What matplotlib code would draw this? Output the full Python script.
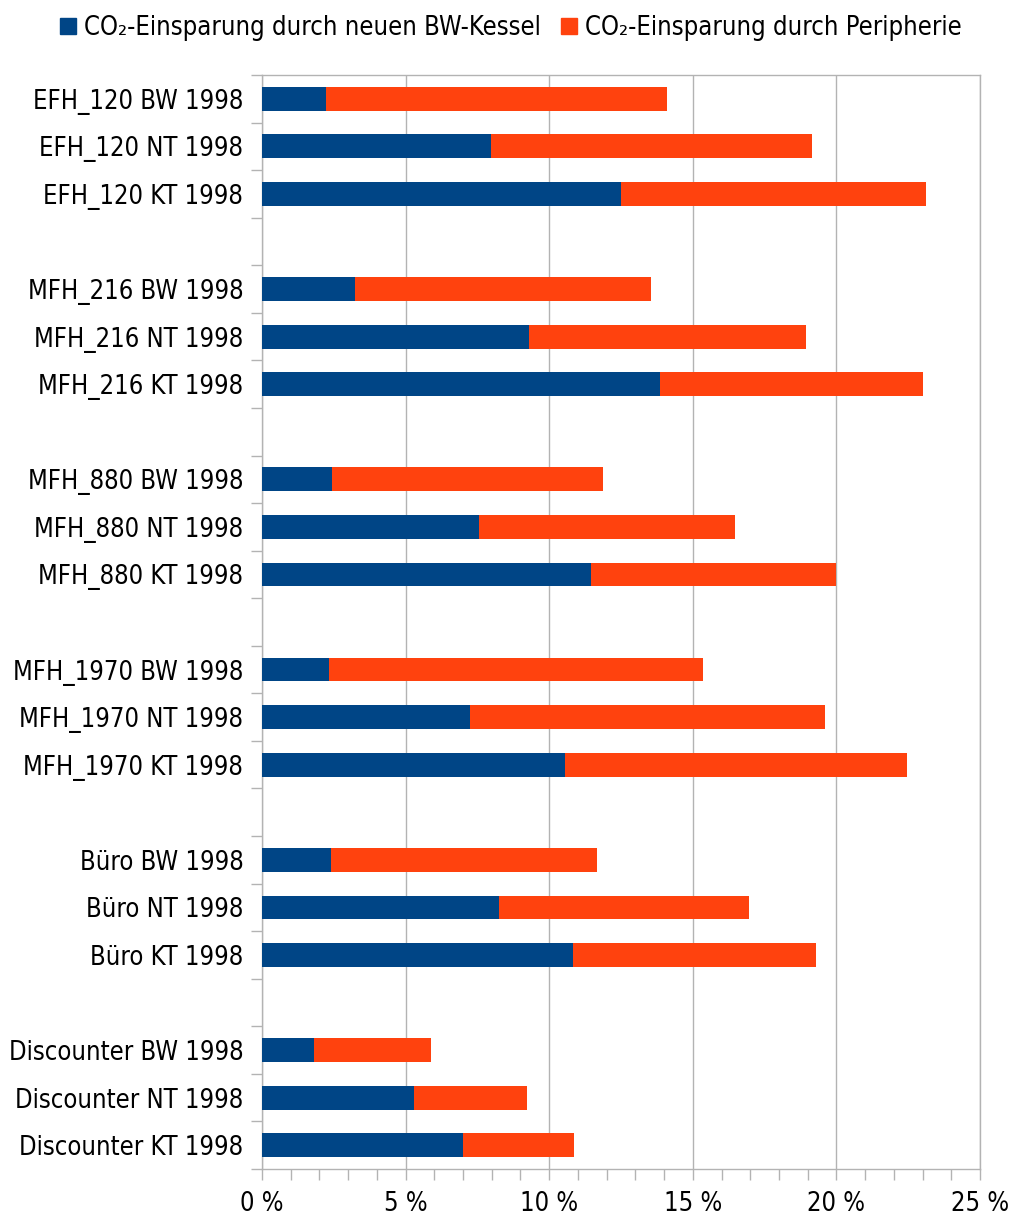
import numpy as np
import matplotlib.pyplot as plt
from matplotlib.patches import Patch
from matplotlib.ticker import MultipleLocator, FixedLocator, FuncFormatter

labels = [
    "EFH_120 BW 1998", "EFH_120 NT 1998", "EFH_120 KT 1998",
    "MFH_216 BW 1998", "MFH_216 NT 1998", "MFH_216 KT 1998",
    "MFH_880 BW 1998", "MFH_880 NT 1998", "MFH_880 KT 1998",
    "MFH_1970 BW 1998", "MFH_1970 NT 1998", "MFH_1970 KT 1998",
    "Büro BW 1998", "Büro NT 1998", "Büro KT 1998",
    "Discounter BW 1998", "Discounter NT 1998", "Discounter KT 1998",
]
# CO2-Einsparung durch neuen BW-Kessel (%)
kessel = [2.23, 7.97, 12.5,
          3.24, 9.29, 13.85,
          2.45, 7.54, 11.45,
          2.33, 7.24, 10.55,
          2.4, 8.25, 10.83,
          1.81, 5.29, 7.0]
# Gesamt (Kessel + Peripherie) (%)
gesamt = [14.1, 19.15, 23.12,
          13.54, 18.95, 23.03,
          11.87, 16.47, 20.0,
          15.36, 19.6, 22.46,
          11.66, 16.96, 19.29,
          5.88, 9.23, 10.86]
peripherie = [g - k for g, k in zip(gesamt, kessel)]

blau = '#004586'
orange = '#ff420e'
grau = '#b3b3b3'

plt.rcParams['font.family'] = ['DejaVu Sans']
plt.rcParams['font.stretch'] = 'condensed'
fs = 18.4

fig = plt.figure(figsize=(10.12, 12.17), dpi=100)
ax = fig.add_axes([262 / 1012, 1 - 1169 / 1217, 718 / 1012, 1094 / 1217])

# 3 Balken pro Gruppe, danach eine leere Zeile
pos = np.array([(i // 3) * 4 + i % 3 for i in range(len(labels))])
ax.barh(pos, kessel, height=0.5, color=blau, zorder=3)
ax.barh(pos, peripherie, left=kessel, height=0.5, color=orange, zorder=3)

ax.set_ylim(22.5, -0.5)
ax.set_xlim(0, 25)

ax.set_yticks(pos)
ax.set_yticklabels(labels, fontsize=fs)
ax.tick_params(axis='y', which='major', length=0, pad=13.5)
ax.yaxis.set_minor_locator(FixedLocator(np.arange(-0.5, 23, 1)))
ax.tick_params(axis='y', which='minor', length=8, color=grau, width=1)

ax.xaxis.set_major_locator(MultipleLocator(5))
ax.xaxis.set_minor_locator(MultipleLocator(1))
ax.xaxis.set_major_formatter(FuncFormatter(lambda v, p: f"{v:.0f} %"))
ax.tick_params(axis='x', which='both', length=8, color=grau, width=1,
               labelsize=fs, pad=7.5)

ax.grid(axis='x', which='major', color=grau, linewidth=1, zorder=0)
for s in ax.spines.values():
    s.set_color(grau)
    s.set_linewidth(1)

handles = [Patch(color=blau, label='CO₂-Einsparung durch neuen BW-Kessel'),
           Patch(color=orange, label='CO₂-Einsparung durch Peripherie')]
fig.legend(handles=handles, loc='center',
           bbox_to_anchor=(511 / 1012, 1 - 28 / 1217),
           ncol=2, frameon=False, fontsize=fs, handlelength=0.6,
           handleheight=0.6, handletextpad=0.32, columnspacing=0.8,
           borderaxespad=0)

fig.savefig('out.png', dpi=100)
